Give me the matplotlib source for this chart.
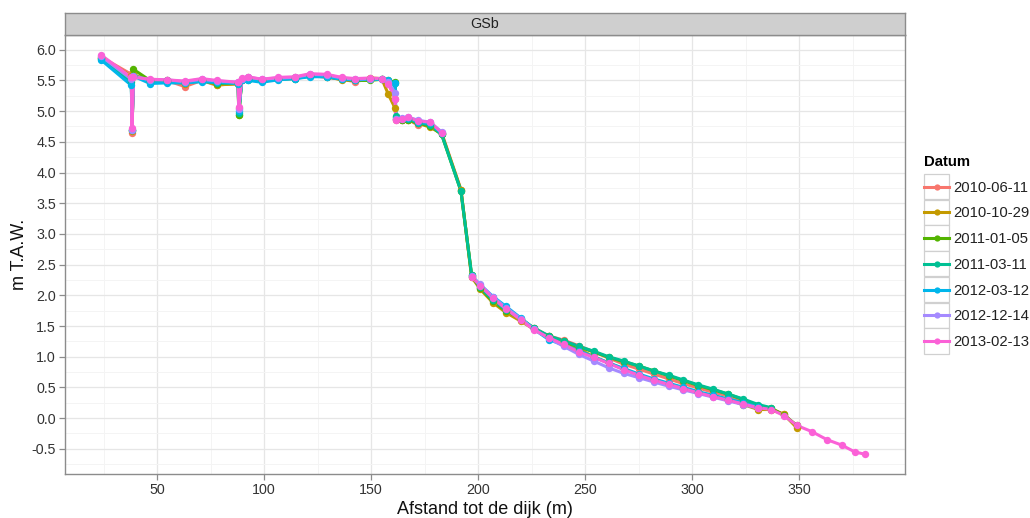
import numpy as np
import matplotlib
matplotlib.use("Agg")
import matplotlib.pyplot as plt
from matplotlib.lines import Line2D
from matplotlib.patches import Rectangle
from matplotlib.legend_handler import HandlerLine2D
from matplotlib.ticker import MultipleLocator, FormatStrFormatter

plt.rcParams['font.family'] = ['Liberation Sans', 'DejaVu Sans']
plt.rcParams['axes.unicode_minus'] = False

nan = np.nan

# Profile GSb: distance to the dike (m) and height (m T.A.W.) per survey date
dates = ["2010-06-11", "2010-10-29", "2011-01-05", "2011-03-11",
         "2012-03-12", "2012-12-14", "2013-02-13"]
colors = ["#F8766D", "#C49A00", "#53B400", "#00C094",
          "#00B6EB", "#A58AFF", "#FB61D7"]

# upper part (dune / dike crest) - shared distances
x_top = [24, 38.0, 38.3, 39.0, 46.7, 54.5, 63.0, 70.9, 77.9, 87.9, 88.2,
         89.6, 92.6, 98.9, 106.7, 114.5, 121.5, 129.3, 136.3, 142.5, 149.5,
         155.0, 158.0, 161.2, 161.6, 164.3, 167.5, 172.1, 177.6, 183.0, 192.0]

y_top_0611 = [5.88, 5.60, 4.65, 5.57, 5.50, 5.50, 5.40, 5.50, 5.42, 5.46, 5.05,
              5.52, 5.55, 5.50, 5.53, 5.55, 5.58, 5.55, 5.52, 5.48, 5.53,
              5.52, 5.48, 5.20, 4.86, 4.86, 4.86, 4.77, 4.80, 4.65, 3.72]
y_top_1029 = [5.87, 5.57, 4.68, 5.60, 5.48, 5.49, 5.45, 5.50, 5.43, 5.44, 4.93,
              5.51, 5.52, 5.50, 5.52, 5.53, 5.59, 5.56, 5.51, 5.50, 5.54,
              5.53, 5.28, 5.05, 4.87, 4.85, 4.86, 4.80, 4.74, 4.63, 3.72]
y_top_0105 = [5.86, 5.50, 4.70, 5.68, 5.50, 5.50, 5.47, 5.50, 5.45, 5.46, 4.94,
              5.52, 5.53, 5.50, 5.52, 5.54, 5.58, 5.57, 5.52, 5.50, 5.50,
              5.52, 5.50, 5.47, 4.90, 4.86, 4.85, 4.80, 4.76, 4.62, 3.70]
y_top_0311 = [5.85, 5.48, 4.70, 5.58, 5.48, 5.49, 5.47, 5.49, 5.46, 5.46, 4.97,
              5.50, 5.51, 5.49, 5.52, 5.53, 5.57, 5.56, 5.52, 5.51, 5.52,
              5.52, 5.49, 5.46, 4.92, 4.88, 4.87, 4.81, 4.78, 4.62, 3.70]
y_top_0312 = [5.83, 5.42, 4.70, 5.57, 5.45, 5.46, 5.46, 5.48, 5.47, 5.45, 5.00,
              5.50, 5.50, 5.47, 5.51, 5.53, 5.56, 5.56, 5.52, 5.51, 5.52,
              5.52, 5.50, 5.46, 4.88, 4.88, 4.89, 4.82, 4.80, 4.64, nan]
y_top_1214 = [5.89, 5.52, 4.70, 5.57, 5.51, 5.51, 5.48, 5.52, 5.49, 5.47, 5.04,
              5.53, 5.55, 5.52, 5.54, 5.55, 5.60, 5.59, 5.54, 5.52, 5.53,
              5.53, 5.48, 5.30, 4.87, 4.89, 4.90, 4.85, 4.82, 4.66, nan]
y_top_0213 = [5.91, 5.55, 4.72, 5.55, 5.52, 5.51, 5.49, 5.53, 5.50, 5.47, 5.06,
              5.54, 5.56, 5.52, 5.55, 5.56, 5.61, 5.60, 5.55, 5.53, 5.54,
              5.53, 5.45, 5.20, 4.85, 4.87, 4.90, 4.84, 4.82, 4.65, nan]

# lower part (beach) - shared distances
x_low = [197, 201, 207, 213, 220, 226, 233, 240, 247, 254, 261, 268, 275, 282,
         289, 296, 303, 310, 317, 324, 331, 337, 343, 349, 356, 363, 370, 376, 381]

y_low_0611 = [2.30, 2.12, 1.90, 1.74, 1.60, 1.47, 1.34, 1.27, 1.18, 1.08, 0.98,
              0.88, 0.80, 0.72, 0.64, 0.56, 0.49, 0.42, 0.36, 0.28, 0.18, 0.15,
              0.06, -0.14, nan, nan, nan, nan, nan]
y_low_1029 = [2.30, 2.10, 1.88, 1.72, 1.58, 1.45, 1.33, 1.24, 1.13, 1.00, 0.90,
              0.80, 0.70, 0.62, 0.55, 0.48, 0.42, 0.36, 0.30, 0.22, 0.14, 0.14,
              0.06, -0.16, nan, nan, nan, nan, nan]
y_low_0105 = [2.33, 2.12, 1.90, 1.75, 1.62, 1.46, 1.33, 1.25, 1.16, 1.08, 0.99,
              0.92, 0.85, 0.77, 0.69, 0.61, 0.53, 0.46, 0.39, 0.30, 0.20, 0.16,
              0.05, -0.12, nan, nan, nan, nan, nan]
y_low_0311 = [2.33, 2.13, 1.92, 1.76, 1.62, 1.47, 1.34, 1.26, 1.17, 1.09, 1.00,
              0.93, 0.85, 0.77, 0.70, 0.62, 0.54, 0.47, 0.39, 0.31, 0.22, 0.17,
              nan, nan, nan, nan, nan, nan, nan]
y_low_0312 = [2.32, 2.17, 1.98, 1.82, 1.63, 1.45, 1.28, 1.19, 1.10, 1.00, 0.90,
              0.81, 0.72, 0.64, 0.57, 0.50, 0.43, 0.37, 0.31, 0.25, 0.18, nan,
              nan, nan, nan, nan, nan, nan, nan]
y_low_1214 = [2.31, 2.18, 1.97, 1.80, 1.62, 1.45, 1.30, 1.17, 1.04, 0.93, 0.82,
              0.73, 0.66, 0.59, 0.52, 0.46, 0.40, 0.34, 0.28, 0.22, 0.16, nan,
              nan, nan, nan, nan, nan, nan, nan]
y_low_0213 = [2.30, 2.16, 1.95, 1.78, 1.60, 1.44, 1.31, 1.20, 1.08, 0.99, 0.89,
              0.79, 0.70, 0.62, 0.55, 0.48, 0.41, 0.35, 0.29, 0.23, 0.17, 0.14,
              0.04, -0.12, -0.22, -0.35, -0.44, -0.55, -0.59]

y_top = [y_top_0611, y_top_1029, y_top_0105, y_top_0311, y_top_0312, y_top_1214, y_top_0213]
y_low = [y_low_0611, y_low_1029, y_low_0105, y_low_0311, y_low_0312, y_low_1214, y_low_0213]

W, H = 1030, 518
fig = plt.figure(figsize=(W / 100, H / 100), dpi=100)
fig.patch.set_facecolor("white")

# panel and facet strip (pixel layout of the reference)
pl, pr, pt, pb = 65, 905, 35, 474
ax = fig.add_axes([pl / W, 1 - pb / H, (pr - pl) / W, (pb - pt) / H])
strip = fig.add_axes([pl / W, 1 - pt / H, (pr - pl) / W, 22 / H])

border = "#8C8C8C"
txt = "#333333"

x_all = np.array(x_top + x_low)
for i, d in enumerate(dates):
    y = np.array(y_top[i] + y_low[i])
    ax.plot(x_all, y, color=colors[i], lw=2.2, solid_capstyle="round", zorder=2)
for i, d in enumerate(dates):
    y = np.array(y_top[i] + y_low[i])
    ax.plot(x_all, y, ls="none", marker="o", ms=5.3, mew=0,
            color=colors[i], zorder=3)

ax.set_xlim(7.0, 399.5)
ax.set_ylim(-0.91, 6.24)
ax.xaxis.set_major_locator(MultipleLocator(50))
ax.xaxis.set_minor_locator(MultipleLocator(25))
ax.yaxis.set_major_locator(MultipleLocator(0.5))
ax.yaxis.set_minor_locator(MultipleLocator(0.25))
ax.yaxis.set_major_formatter(FormatStrFormatter("%.1f"))
ax.grid(which="major", color="#E6E6E6", lw=0.9)
ax.grid(which="minor", color="#F4F4F4", lw=0.7)
ax.set_axisbelow(True)
for s in ax.spines.values():
    s.set_color(border)
    s.set_linewidth(1.0)
ax.tick_params(which="major", length=4, width=0.9, color=border,
               labelsize=10.3, labelcolor=txt, pad=2.5)
ax.tick_params(which="minor", length=0)
ax.set_xlabel("Afstand tot de dijk (m)", fontsize=13, color="#111111", labelpad=2.5)
ax.set_ylabel("m T.A.W.", fontsize=13, color="#111111", labelpad=2.5)

strip.set_facecolor("#CFCFCF")
strip.set_xticks([])
strip.set_yticks([])
for s in strip.spines.values():
    s.set_color(border)
    s.set_linewidth(1.0)
strip.text(0.5, 0.5, "GSb", ha="center", va="center", fontsize=10.3, color="#222222",
           transform=strip.transAxes)


class KeyHandler(HandlerLine2D):
    """Line + point key drawn inside a grey bordered square, ggplot style."""

    def create_artists(self, legend, orig_handle, xdescent, ydescent,
                       width, height, fontsize, trans):
        arts = super().create_artists(legend, orig_handle, xdescent, ydescent,
                                      width, height, fontsize, trans)
        side = width
        rect = Rectangle((-xdescent, -ydescent + height / 2 - side / 2), side, side,
                         fc="white", ec="#D0D0D0", lw=0.9, transform=trans)
        return [rect] + arts


handles = [Line2D([], [], color=c, lw=2.2, marker="o", ms=4.5, mew=0) for c in colors]
leg = fig.legend(handles, dates, loc="upper left",
                 bbox_to_anchor=(924 / W, 1 - 155 / H),
                 frameon=False, fontsize=10.7, title="Datum",
                 title_fontproperties={"weight": "bold", "size": 10.7},
                 alignment="left", borderpad=0, borderaxespad=0,
                 handlelength=1.7, handletextpad=0.3, labelspacing=0.79,
                 numpoints=1, handler_map={Line2D: KeyHandler()})
for t in leg.get_texts():
    t.set_color("#222222")

fig.savefig("out.png", dpi=100)
